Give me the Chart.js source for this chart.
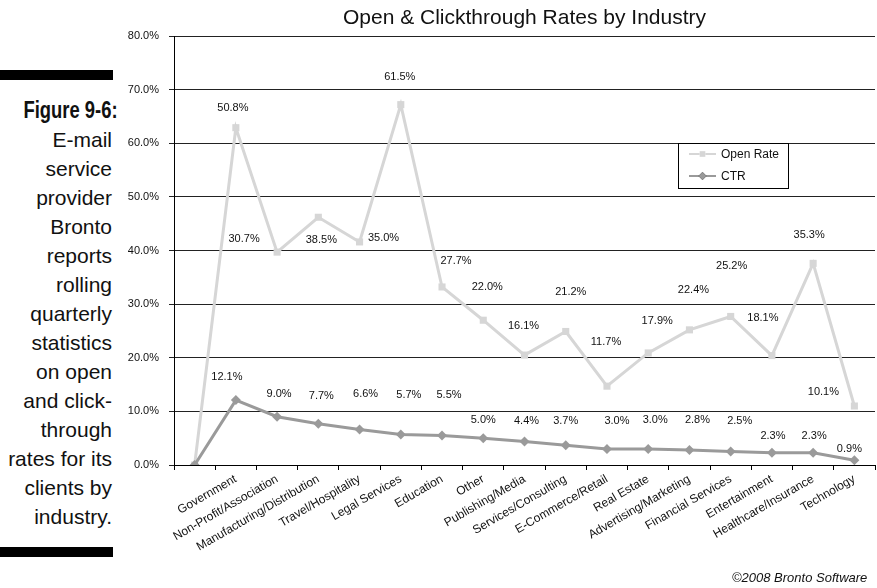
<!DOCTYPE html>
<html>
<head>
<meta charset="utf-8">
<script src="https://cdn.jsdelivr.net/npm/chart.js@4.4.1/dist/chart.umd.min.js"></script>
<style>
  html, body { margin:0; padding:0; background:#fff; overflow:hidden; width:877px; height:588px; }
  #wrap { position:absolute; left:0; top:0; width:880px; height:588px; }
  #caption { position:absolute; left:0; top:96px; width:112px; text-align:right; white-space:nowrap;
    font-family:"Liberation Sans", Arial, sans-serif; font-size:21px; line-height:29px; color:#111; }
  #caption b { display:inline-block; font-size:23px; transform:scaleX(0.8); transform-origin:100% 50%; }
  .bar { position:absolute; left:0; width:113px; height:10px; background:#000; }
  #copy { position:absolute; left:732px; top:570px; white-space:nowrap;
    font-family:"Liberation Sans", Arial, sans-serif; font-style:italic; font-size:13px; color:#111; }
</style>
</head>
<body>
<div class="bar" style="top:70px"></div>
<div class="bar" style="top:547px"></div>
<div id="caption"><b>Figure 9-6:</b><br>E-mail<br>service<br>provider<br>Bronto<br>reports<br>rolling<br>quarterly<br>statistics<br>on open<br>and click-<br>through<br>rates for its<br>clients by<br>industry.</div>
<div id="wrap"><canvas id="c"></canvas></div>
<div id="copy">©2008 Bronto Software</div>
<script>
// ---- data ----
const categories = ['', 'Government', 'Non-Profit/Association', 'Manufacturing/Distribution',
  'Travel/Hospitality', 'Legal Services', 'Education', 'Other', 'Publishing/Media',
  'Services/Consulting', 'E-Commerce/Retail', 'Real Estate', 'Advertising/Marketing',
  'Financial Services', 'Entertainment', 'Healthcare/Insurance', 'Technology'];
const openRate = [0, 50.8, 30.7, 38.5, 35.0, 61.5, 27.7, 22.0, 16.1, 21.2, 11.7, 17.9, 22.4, 25.2, 18.1, 35.3, 10.1];
const ctr = [0, 12.1, 9.0, 7.7, 6.6, 5.7, 5.5, 5.0, 4.4, 3.7, 3.0, 3.0, 2.8, 2.5, 2.3, 2.3, 0.9];
const yTickValues = [0, 10, 20, 30, 40, 50, 60, 70, 80];
const chartTitle = 'Open & Clickthrough Rates by Industry';

// ---- label placement (style, pixel offsets from each point) ----
const openLabelOffsets = [[0,0],[-3,-20],[-33,-13],[3,23],[24,-4],[-1,-28],[14,-26],[4,-33],[-1,-29],
  [5,-40],[-1,-44],[9,-32],[4,-40],[1,-50],[-9,-38],[-4,-28],[-31,-14]];
const ctrLabelOffsets = [[0,0],[-9,-23],[2,-23],[3,-28],[6,-36],[8,-39],[7,-41],[0,-18],[2,-20],
  [0,-24],[10,-28],[7,-29],[8,-30],[9,-31],[1,-17],[1,-17],[-5,-11]];

const FONT = '"Liberation Sans", Arial, sans-serif';
Chart.defaults.font.family = FONT;
Chart.defaults.color = '#111';

const OPEN_COLOR = '#d6d6d6';
const CTR_COLOR = '#9a9a9a';

const valueLabels = {
  id: 'valueLabels',
  afterDatasetsDraw(chart) {
    const ctx = chart.ctx;
    ctx.save();
    ctx.font = '11px ' + FONT;
    ctx.fillStyle = '#111';
    ctx.textAlign = 'center';
    ctx.textBaseline = 'middle';
    chart.data.datasets.forEach((ds, di) => {
      const meta = chart.getDatasetMeta(di);
      meta.data.forEach((pt, i) => {
        if (!chart.data.labels[i]) return;
        const off = ds.labelOffsets[i];
        ctx.fillText(ds.data[i].toFixed(1) + '%', pt.x + off[0], pt.y + off[1]);
      });
    });
    ctx.restore();
  }
};

const titleAndLegend = {
  id: 'titleAndLegend',
  afterDraw(chart) {
    const ctx = chart.ctx;
    const ca = chart.chartArea;
    ctx.save();
    // title centred over plot area
    ctx.font = '21px ' + FONT;
    ctx.fillStyle = '#111';
    ctx.textAlign = 'center';
    ctx.textBaseline = 'middle';
    ctx.fillText(chartTitle, (ca.left + ca.right) / 2, 18);
    // legend box
    const bx = 678, by = 143, bw = 110, bh = 45;
    ctx.fillStyle = '#fff';
    ctx.fillRect(bx, by, bw, bh);
    ctx.strokeStyle = '#000';
    ctx.lineWidth = 1;
    ctx.strokeRect(bx + 0.5, by + 0.5, bw, bh);
    const order = [1, 0];
    order.forEach((di, k) => {
      const ds = chart.data.datasets[di];
      const y = by + 11 + k * 22;
      ctx.strokeStyle = ds.borderColor;
      ctx.lineWidth = 2;
      ctx.beginPath(); ctx.moveTo(bx + 11, y); ctx.lineTo(bx + 38, y); ctx.stroke();
      Chart.helpers.drawPoint(ctx, {pointStyle: ds.pointStyle, radius: ds.pointRadius - 1, borderWidth: 0}, bx + 24.5, y);
      ctx.fillStyle = ds.borderColor;
      ctx.fill();
      ctx.fillStyle = '#111';
      ctx.font = '12px ' + FONT;
      ctx.textAlign = 'left';
      ctx.fillText(ds.label, bx + 43, y + 1);
    });
    ctx.restore();
  }
};

new Chart(document.getElementById('c'), {
  type: 'line',
  data: {
    labels: categories,
    datasets: [
      { label: 'CTR', data: ctr, borderColor: CTR_COLOR, backgroundColor: CTR_COLOR,
        borderWidth: 3, pointStyle: 'rectRot', pointRadius: 5, pointBorderWidth: 0,
        pointBackgroundColor: CTR_COLOR, tension: 0, labelOffsets: ctrLabelOffsets },
      { label: 'Open Rate', data: openRate, borderColor: OPEN_COLOR, backgroundColor: OPEN_COLOR,
        borderWidth: 3, pointStyle: 'rect', pointRadius: 5, pointBorderWidth: 0,
        pointBackgroundColor: OPEN_COLOR, tension: 0, labelOffsets: openLabelOffsets }
    ]
  },
  options: {
    responsive: true,
    maintainAspectRatio: false,
    animation: false,
    events: [],
    layout: { padding: { top: 36, left: 0, right: 0, bottom: 0 } },
    plugins: { legend: { display: false }, title: { display: false }, tooltip: { enabled: false } },
    scales: {
      x: {
        type: 'category',
        offset: true,
        grid: { drawOnChartArea: false, offset: true, drawTicks: true, tickLength: 5, color: '#000' },
        border: { display: true, color: '#000', width: 1 },
        ticks: { autoSkip: false, minRotation: 30, maxRotation: 30, padding: 2,
          font: { size: 12 }, color: '#111' },
        afterFit(s) { s.height = 123; }
      },
      y: {
        stacked: true,
        min: 0, max: 80,
        afterBuildTicks(s) { s.ticks = yTickValues.map(v => ({ value: v })); },
        grid: { color: '#222', lineWidth: 1, tickLength: 5, drawTicks: true },
        border: { display: true, color: '#000', width: 1 },
        ticks: { padding: 10, font: { size: 11 }, color: '#111',
          callback: v => Number(v).toFixed(1) + '%' },
        afterFit(s) { s.width = 174; }
      }
    }
  },
  plugins: [valueLabels, titleAndLegend]
});
</script>
</body>
</html>
